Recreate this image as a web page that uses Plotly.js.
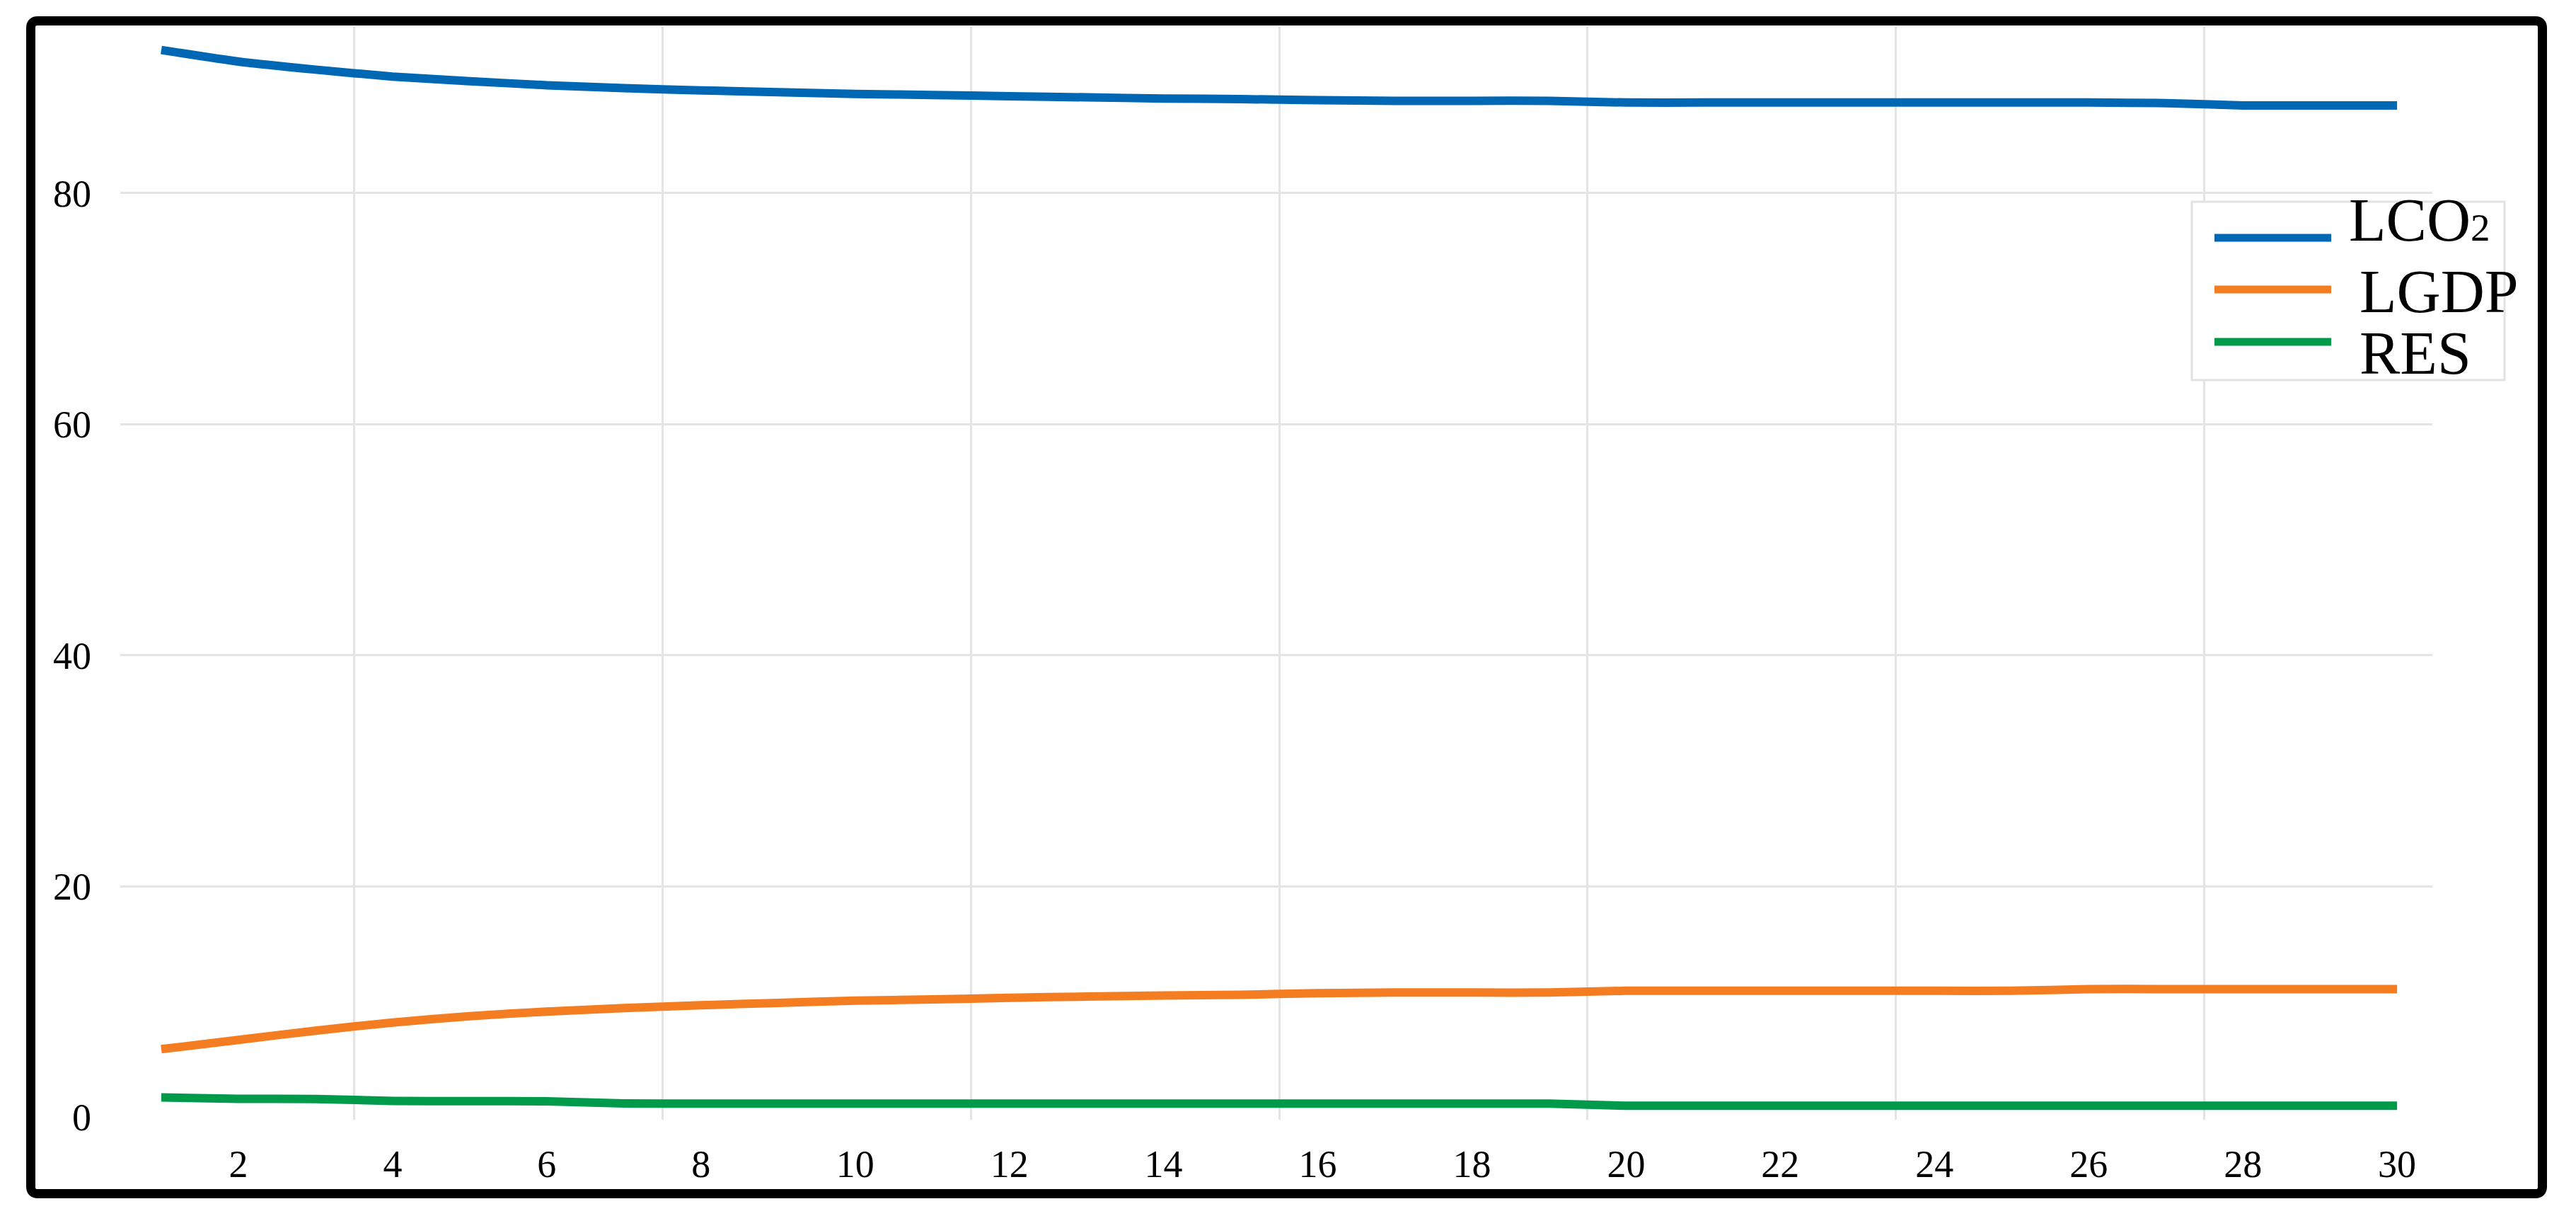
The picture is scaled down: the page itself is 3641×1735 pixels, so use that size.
<!DOCTYPE html>
<html>
<head>
<meta charset="utf-8">
<script src="https://cdn.plot.ly/plotly-3.0.1.min.js"></script>
<style>
  html, body { margin: 0; padding: 0; background: #ffffff; }
  #chart { width: 3641px; height: 1735px; }
</style>
</head>
<body>
<div id="chart"></div>
<script>
// ---- data ----
const periods = [1,2,3,4,5,6,7,8,9,10,11,12,13,14,15,16,17,18,19,20,21,22,23,24,25,26,27,28,29,30];
const LCO2 = [92.4, 91.4, 90.7, 90.1, 89.7, 89.35, 89.1, 88.9, 88.75, 88.6,
              88.5, 88.4, 88.3, 88.2, 88.15, 88.05, 88.0, 88.0, 88.0, 87.85,
              87.85, 87.85, 87.85, 87.85, 87.85, 87.85, 87.8, 87.6, 87.6, 87.6];
const LGDP = [5.9, 6.7, 7.5, 8.2, 8.75, 9.15, 9.45, 9.7, 9.9, 10.1,
              10.2, 10.35, 10.45, 10.55, 10.6, 10.75, 10.8, 10.8, 10.8, 10.95,
              10.95, 10.95, 10.95, 10.95, 10.95, 11.1, 11.1, 11.1, 11.1, 11.1];
const RES  = [1.72, 1.6, 1.58, 1.42, 1.4, 1.38, 1.2, 1.18, 1.18, 1.18,
              1.18, 1.18, 1.18, 1.18, 1.18, 1.18, 1.18, 1.18, 1.18, 1.0,
              1.0, 1.0, 1.0, 1.0, 1.0, 1.0, 1.0, 1.0, 1.0, 1.0];
const seriesNames = ["LCO<span style='font-size:55px'>2</span>", "LGDP", "RES"];
const seriesColors = ["#0067B4", "#F47D22", "#009A4B"];
const xTickVals = [2,4,6,8,10,12,14,16,18,20,22,24,26,28,30];
const yTickVals = [0,20,40,60,80];

// ---- layout geometry (pixels) ----
const W = 3641, H = 1735;
const M = {l: 170, r: 203, t: 37, b: 153};
const PW = W - M.l - M.r, PH = H - M.t - M.b;
const px = v => (v - M.l) / PW;          // pixel x -> paper
const py = v => (H - M.b - v) / PH;      // pixel y -> paper

const serif = "Liberation Serif, Times New Roman, serif";
const gridColor = "#e4e4e4";

const traces = [LCO2, LGDP, RES].map((vals, i) => ({
  type: "scatter",
  mode: "lines",
  x: periods,
  y: vals,
  name: seriesNames[i],
  showlegend: false,
  line: {color: seriesColors[i], width: 12, shape: "spline", smoothing: 0.6},
  hoverinfo: "skip"
}));

// frame with slightly rounded corners (paper coords)
function roundedRectPath(x0, y0, x1, y1, r) {
  const rx = r / PW, ry = r / PH;
  return `M ${x0 + rx},${y1} L ${x1 - rx},${y1} Q ${x1},${y1} ${x1},${y1 - ry} ` +
         `L ${x1},${y0 + ry} Q ${x1},${y0} ${x1 - rx},${y0} ` +
         `L ${x0 + rx},${y0} Q ${x0},${y0} ${x0},${y0 + ry} ` +
         `L ${x0},${y1 - ry} Q ${x0},${y1} ${x0 + rx},${y1} Z`;
}

const shapes = [
  {type: "path", xref: "paper", yref: "paper",
   path: roundedRectPath(px(43.5), py(1686.5), px(3593.5), py(29.5), 10),
   line: {color: "#000000", width: 13}, fillcolor: "rgba(0,0,0,0)"},
  // legend box
  {type: "rect", xref: "paper", yref: "paper",
   x0: px(3098), x1: px(3540), y0: py(537), y1: py(285),
   line: {color: "#e2e2e2", width: 3}, fillcolor: "#ffffff"}
];
const legendLineY = [336, 409, 483];
const legendTextY = [311, 412, 499];
const legendTextX = [3318, 3333, 3333];
const annotations = [];
seriesNames.forEach((nm, i) => {
  shapes.push({type: "line", xref: "paper", yref: "paper",
    x0: px(3130), x1: px(3295), y0: py(legendLineY[i]), y1: py(legendLineY[i]),
    line: {color: seriesColors[i], width: 11}});
  annotations.push({xref: "paper", yref: "paper", x: px(legendTextX[i]), y: py(legendTextY[i]),
    xanchor: "left", yanchor: "middle", showarrow: false, text: nm,
    font: {family: serif, size: 86, color: "#000000"}});
});

const xRange = [0.468, 30.458];
const layout = {
  width: W, height: H,
  margin: M,
  paper_bgcolor: "#ffffff",
  plot_bgcolor: "#ffffff",
  showlegend: false,
  xaxis: {
    range: xRange,
    tickmode: "array", tickvals: xTickVals, ticktext: xTickVals.map(String),
    showgrid: false, zeroline: false, showline: false, ticks: "",
    ticklabelstandoff: 26,
    tickfont: {family: serif, size: 54, color: "#000000"}
  },
  xaxis2: {
    overlaying: "x", matches: "x", anchor: "y",
    range: xRange,
    tickmode: "linear", tick0: 3.5, dtick: 4,
    showgrid: true, gridcolor: gridColor, gridwidth: 3,
    showticklabels: false, ticks: "", zeroline: false, showline: false
  },
  yaxis: {
    range: [-0.21, 94.46],
    tickmode: "array", tickvals: yTickVals, ticktext: yTickVals.map(String),
    showgrid: true, gridcolor: gridColor, gridwidth: 3,
    zeroline: true, zerolinecolor: "rgba(0,0,0,0)", zerolinewidth: 1,
    showline: false, ticks: "",
    ticklabelstandoff: 40,
    tickfont: {family: serif, size: 54, color: "#000000"}
  },
  shapes: shapes,
  annotations: annotations
};

// an invisible trace on xaxis2 so the grid axis is fully attached
traces.push({type: "scatter", mode: "lines", x: [periods[0]], y: [LCO2[0]], xaxis: "x2",
  line: {color: "rgba(0,0,0,0)"}, showlegend: false, hoverinfo: "skip"});

Plotly.newPlot("chart", traces, layout, {staticPlot: true, displayModeBar: false});
</script>
</body>
</html>
